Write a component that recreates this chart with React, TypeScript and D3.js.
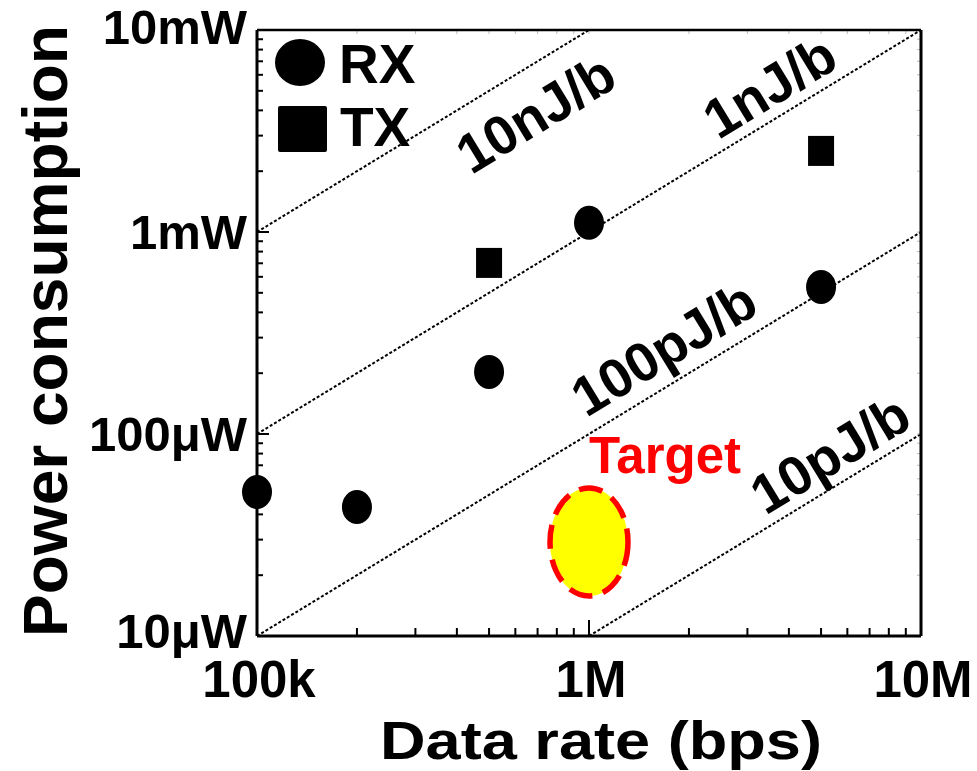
import React from "react";
import * as d3 from "d3";

const rxRates = [1e5, 2e5, 5e5, 1e6, 5e6];
const rxPower = [51.6e-6, 43.5e-6, 203e-6, 1.11e-3, 534e-6];
const txRates = [5e5, 5e6];
const txPower = [703e-6, 2.52e-3];

const energyLevels = [1e-8, 1e-9, 1e-10, 1e-11];
const energyLabels = ["10nJ/b", "1nJ/b", "100pJ/b", "10pJ/b"];
const energyLabelRates = [7.4e5, 3.75e6, 1.8e6, 5.7e6];
const energyLabelPowers = [3.2e-3, 4.35e-3, 2.2e-4, 6.6e-5];

const xTickValues = [1e5, 1e6, 1e7];
const xTickLabels = ["100k", "1M", "10M"];
const yTickValues = [1e-2, 1e-3, 1e-4, 1e-5];
const yTickLabels = ["10mW", "1mW", "100μW", "10μW"];

const targetRate = 1e6;
const targetPower = 29.2e-6;

const legendItems = ["RX", "TX"];

const W = 977;
const H = 771;
const L = 257, R = 921, T = 30, B = 636;
const FONT = "'Liberation Sans', Arial, Helvetica, sans-serif";

export default function App() {
  const x = d3.scaleLog().domain([1e5, 1e7]).range([L, R]);
  const y = d3.scaleLog().domain([1e-5, 1e-2]).range([B, T]);

  const minorX: number[] = [];
  for (let d = 1e5; d < 1e7; d *= 10) for (let k = 2; k <= 9; k++) minorX.push(d * k);
  const minorY: number[] = [];
  for (let d = 1e-5; d < 1e-2; d *= 10) for (let k = 2; k <= 9; k++) minorY.push(d * k);

  const angle = (Math.atan2(y(1e-4) - y(1e-5), x(1e6) - x(1e5)) * 180) / Math.PI;

  const line = d3
    .line<[number, number]>()
    .x((d) => x(d[0]))
    .y((d) => y(d[1]));

  // labels at the ends of the axis sit slightly inward
  const yLabelShift = (v: number) => (v === 1e-2 ? -3 : v === 1e-5 ? -5 : 0);

  return (
    <svg
      width={W}
      height={H}
      style={{ position: "absolute", left: 0, top: 0, background: "#fff" }}
      fontFamily={FONT}
      fontWeight="bold"
    >
      {/* energy lines */}
      {energyLevels.map((e, i) => {
        const r0 = Math.max(1e5, 1e-5 / e);
        const r1 = Math.min(1e7, 1e-2 / e);
        return (
          <path
            key={"e" + i}
            d={line([
              [r0, r0 * e],
              [r1, r1 * e],
            ]) || ""}
            fill="none"
            stroke="#000"
            strokeWidth={2}
            strokeDasharray="3 2"
          />
        );
      })}
      {energyLabels.map((t, i) => (
        <text
          key={"el" + i}
          transform={`translate(${x(energyLabelRates[i])},${y(energyLabelPowers[i])}) rotate(${angle})`}
          textAnchor="middle"
          fontSize={55}
          fill="#000"
        >
          {t}
        </text>
      ))}

      {/* mirror ticks top & right */}
      {minorX.concat(xTickValues).map((v, i) => (
        <line key={"tt" + i} x1={x(v)} x2={x(v)} y1={T} y2={T + 4} stroke="#bbb" strokeWidth={1} />
      ))}
      {minorY.concat(yTickValues).map((v, i) => (
        <line key={"rt" + i} x1={R} x2={R - 4} y1={y(v)} y2={y(v)} stroke="#bbb" strokeWidth={1} />
      ))}

      {/* frame */}
      <line x1={L} x2={R} y1={T} y2={T} stroke="#000" strokeWidth={2.5} />
      <line x1={R} x2={R} y1={T} y2={B} stroke="#000" strokeWidth={3} />
      <line x1={L} x2={L} y1={T} y2={B} stroke="#000" strokeWidth={3} />
      <line x1={L} x2={R} y1={B} y2={B} stroke="#000" strokeWidth={3} />

      {/* bottom ticks */}
      {minorX.map((v, i) => (
        <line key={"bx" + i} x1={x(v)} x2={x(v)} y1={B} y2={B - 8} stroke="#000" strokeWidth={2} />
      ))}
      {xTickValues.map((v, i) => (
        <line key={"bX" + i} x1={x(v)} x2={x(v)} y1={B} y2={B - 16} stroke="#000" strokeWidth={2} />
      ))}
      {/* left ticks */}
      {minorY.map((v, i) => (
        <line key={"ly" + i} x1={L} x2={L + 6} y1={y(v)} y2={y(v)} stroke="#000" strokeWidth={2} />
      ))}
      {yTickValues.map((v, i) => (
        <line key={"lY" + i} x1={L} x2={L + 12} y1={y(v)} y2={y(v)} stroke="#000" strokeWidth={2} />
      ))}

      {/* tick labels */}
      {xTickValues.map((v, i) => (
        <text key={"xl" + i} x={x(v) + 2} y={697} textAnchor="middle" fontSize={51} fill="#000">
          {xTickLabels[i]}
        </text>
      ))}
      {yTickValues.map((v, i) => (
        <text key={"yl" + i} x={247} y={y(v) + 17 + yLabelShift(v)} textAnchor="end" fontSize={49} fill="#000">
          {yTickLabels[i]}
        </text>
      ))}

      {/* axis titles */}
      <text x={601} y={759} textAnchor="middle" fontSize={54} fill="#000" textLength={442} lengthAdjust="spacingAndGlyphs">
        Data rate (bps)
      </text>
      <text
        transform={`translate(67,${(T + B) / 2 - 2}) rotate(-90)`}
        textAnchor="middle"
        fontSize={63}
        fill="#000"
        textLength={612}
        lengthAdjust="spacingAndGlyphs"
      >
        Power consumption
      </text>

      {/* target */}
      <ellipse
        cx={x(targetRate)}
        cy={y(targetPower)}
        rx={39}
        ry={54}
        fill="#ffff00"
        stroke="#ff0000"
        strokeWidth={5.5}
        strokeDasharray="24 11"
      />
      <text x={x(targetRate) + 76} y={473} textAnchor="middle" fontSize={51} fill="#ff0000">
        Target
      </text>

      {/* data */}
      {rxRates.map((r, i) => (
        <ellipse key={"rx" + i} cx={x(r)} cy={y(rxPower[i])} rx={15} ry={17} fill="#000" />
      ))}
      {txRates.map((r, i) => (
        <rect key={"tx" + i} x={x(r) - 13} y={y(txPower[i]) - 15} width={26} height={30} fill="#000" />
      ))}

      {/* legend */}
      <ellipse cx={300} cy={62.5} rx={25} ry={23.5} fill="#000" />
      <rect x={278} y={106} width={49} height={46} fill="#000" rx={2} />
      <text x={339} y={83} fontSize={55} fill="#000">
        {legendItems[0]}
      </text>
      <text x={340} y={146} fontSize={55} fill="#000">
        {legendItems[1]}
      </text>
    </svg>
  );
}
